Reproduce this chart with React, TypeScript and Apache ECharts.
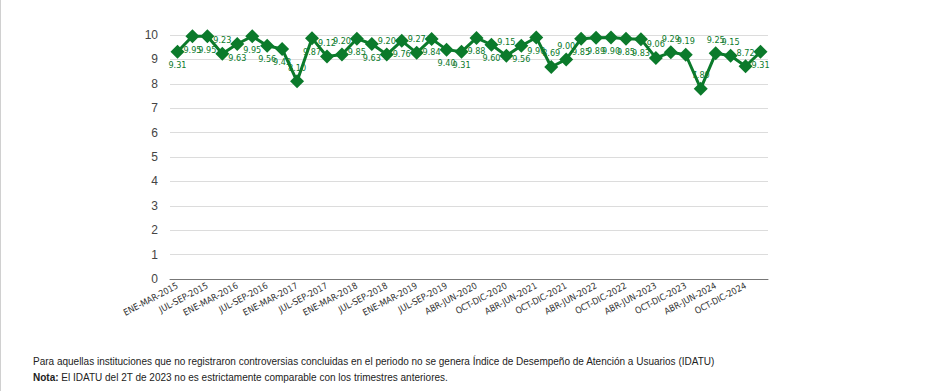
import React, { useEffect, useRef } from "react";
import * as echarts from "echarts";

const categories = [
  "ENE-MAR-2015", "ABR-JUN-2015", "JUL-SEP-2015", "OCT-DIC-2015",
  "ENE-MAR-2016", "ABR-JUN-2016", "JUL-SEP-2016", "OCT-DIC-2016",
  "ENE-MAR-2017", "ABR-JUN-2017", "JUL-SEP-2017", "OCT-DIC-2017",
  "ENE-MAR-2018", "ABR-JUN-2018", "JUL-SEP-2018", "OCT-DIC-2018",
  "ENE-MAR-2019", "ABR-JUN-2019", "JUL-SEP-2019", "OCT-DIC-2019",
  "ABR-JUN-2020", "JUL-SEP-2020", "OCT-DIC-2020",
  "ENE-MAR-2021", "ABR-JUN-2021", "JUL-SEP-2021", "OCT-DIC-2021",
  "ENE-MAR-2022", "ABR-JUN-2022", "JUL-SEP-2022", "OCT-DIC-2022",
  "ENE-MAR-2023", "ABR-JUN-2023", "JUL-SEP-2023", "OCT-DIC-2023",
  "ENE-MAR-2024", "ABR-JUN-2024", "JUL-SEP-2024", "OCT-DIC-2024",
  "ENE-MAR-2025",
];

const idatu = [
  9.31, 9.95, 9.95, 9.23, 9.63, 9.95, 9.56, 9.43, 8.1, 9.87,
  9.12, 9.2, 9.85, 9.63, 9.2, 9.76, 9.27, 9.84, 9.4, 9.31,
  9.88, 9.6, 9.15, 9.56, 9.9, 8.69, 9.0, 9.85, 9.89, 9.9,
  9.85, 9.83, 9.06, 9.29, 9.19, 7.8, 9.25, 9.15, 8.72, 9.31,
];

const yTicks = [0, 1, 2, 3, 4, 5, 6, 7, 8, 9, 10];

const labelsAbove = new Set([3, 8, 10, 11, 14, 16, 22, 25, 26, 32, 33, 34, 35, 36, 37, 38]);

const GREEN = "#0b7a2b";
const NARROW = "'Liberation Sans Narrow', 'Arial Narrow', 'DejaVu Sans Condensed', sans-serif";
const ARIAL = "Arial, 'Liberation Sans', sans-serif";

export default function App() {
  const ref = useRef<HTMLDivElement>(null);
  useEffect(() => {
    if (!ref.current) return;
    const chart = echarts.init(ref.current, undefined, { renderer: "svg" });
    chart.setOption({
      animation: false,
      backgroundColor: "#ffffff",
      grid: { left: 170, right: 169, top: 35, bottom: 112 },
      xAxis: {
        type: "category",
        data: categories,
        boundaryGap: true,
        axisLine: { lineStyle: { color: "#777", width: 1 } },
        axisTick: { show: false },
        axisLabel: {
          interval: 1,
          rotate: 28,
          fontSize: 9,
          color: "#333",
          fontFamily: NARROW,
          margin: 6,
        },
      },
      yAxis: {
        type: "value",
        min: yTicks[0],
        max: yTicks[yTicks.length - 1],
        interval: 1,
        axisLine: { show: false },
        axisTick: { show: false },
        splitLine: { lineStyle: { color: "#dcdcdc", width: 1 } },
        axisLabel: {
          fontSize: 12,
          color: "#444",
          margin: 12,
          fontFamily: ARIAL,
        },
      },
      series: [
        {
          type: "line",
          data: idatu.map((v, i) => ({
            value: v,
            label: {
              position: labelsAbove.has(i) ? "top" : "bottom",
            },
          })),
          symbol: "diamond",
          symbolSize: 14,
          showSymbol: true,
          showAllSymbol: true,
          itemStyle: { color: GREEN },
          lineStyle: { color: GREEN, width: 3 },
          labelLayout: { hideOverlap: false },
          label: {
            show: true,
            distance: 2,
            fontSize: 9,
            color: GREEN,
            fontFamily: NARROW,
            formatter: (p: any) => Number(p.value).toFixed(2),
          },
        },
      ],
      graphic: [
        {
          type: "line",
          shape: { x1: 0.5, y1: 0, x2: 0.5, y2: 391 },
          style: { stroke: "#d0d0d0", lineWidth: 1 },
        },
        {
          type: "text",
          left: 33,
          top: 356,
          style: {
            text: "Para aquellas instituciones que no registraron controversias concluidas en el periodo no se genera Índice de Desempeño de Atención a Usuarios (IDATU)",
            fontSize: 10,
            fill: "#222",
            fontFamily: ARIAL,
          },
        },
        {
          type: "text",
          left: 33,
          top: 372,
          style: {
            text: "{b|Nota:} El IDATU del 2T de 2023 no es estrictamente comparable con los trimestres anteriores.",
            fontSize: 10,
            fill: "#222",
            fontFamily: ARIAL,
            rich: {
              b: {
                fontWeight: "bold",
                fontSize: 10,
                fill: "#222",
                fontFamily: ARIAL,
              },
            },
          },
        },
      ],
    });
    return () => chart.dispose();
  }, []);
  return (
    <div
      ref={ref}
      style={{ position: "fixed", left: 0, top: 0, width: 937, height: 391 }}
    />
  );
}
